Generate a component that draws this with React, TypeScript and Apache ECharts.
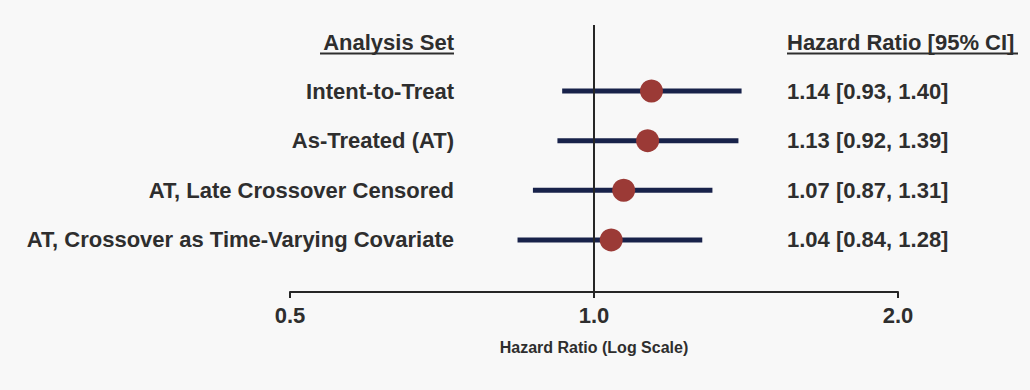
import React, { useEffect, useRef } from "react";
import * as echarts from "echarts";

const analysisSets = [
  "Intent-to-Treat",
  "As-Treated (AT)",
  "AT, Late Crossover Censored",
  "AT, Crossover as Time-Varying Covariate",
];
const hazardRatios = [1.14, 1.13, 1.07, 1.04];
const ciLower = [0.93, 0.92, 0.87, 0.84];
const ciUpper = [1.4, 1.39, 1.31, 1.28];
const rowPositions = [1, 2, 3, 4];
const referenceValue = 1;
const headerLeft = "Analysis Set";
const headerRight = "Hazard Ratio [95% CI]";
const axisTitle = "Hazard Ratio (Log Scale)";

const FONT = "'Liberation Sans', Arial, Helvetica, sans-serif";
const TEXT = "#2e2e2e";

export default function App() {
  const ref = useRef<HTMLDivElement>(null);
  useEffect(() => {
    if (!ref.current) return;
    const chart = echarts.init(ref.current, undefined, { renderer: "svg" });
    const rows = analysisSets.map((name, i) => [
      rowPositions[i],
      hazardRatios[i],
      ciLower[i],
      ciUpper[i],
      name,
    ]);
    const option: any = {
      animation: false,
      backgroundColor: "#f8f8f8",
      textStyle: { fontFamily: FONT },
      grid: { left: 290, right: 132, top: 25, bottom: 98, containLabel: false },
      xAxis: {
        type: "log",
        logBase: 2,
        min: 0.5,
        max: 2,
        position: "bottom",
        axisLine: { show: true, onZero: false, lineStyle: { color: "#262626", width: 2 } },
        axisTick: { show: true, length: 6, lineStyle: { color: "#262626", width: 2 } },
        minorTick: { show: false },
        splitLine: { show: false },
        axisLabel: {
          color: TEXT,
          fontSize: 22,
          fontWeight: "bold",
          fontFamily: FONT,
          margin: 12,
          formatter: (v: number) => Number(v).toFixed(1),
        },
        name: axisTitle,
        nameLocation: "middle",
        nameGap: 47,
        nameTextStyle: { color: TEXT, fontSize: 16, fontWeight: "bold", fontFamily: FONT },
      },
      yAxis: {
        type: "value",
        inverse: true,
        min: -0.33,
        max: 5.05,
        show: false,
      },
      series: [
        {
          type: "scatter",
          data: [],
          z: 1,
          silent: true,
          markLine: {
            silent: true,
            symbol: ["none", "none"],
            label: { show: false },
            lineStyle: { color: "#262626", width: 2, type: "solid" },
            data: [{ xAxis: referenceValue }],
          },
        },
        {
          type: "custom",
          z: 3,
          silent: true,
          data: rows,
          encode: { x: [1, 2, 3], y: 0 },
          renderItem: (params: any, api: any) => {
            const y = api.value(0);
            const hr = api.value(1);
            const lo = api.value(2);
            const hi = api.value(3);
            const name = analysisSets[params.dataIndex];
            const p1 = api.coord([lo, y]);
            const p2 = api.coord([hi, y]);
            return {
              type: "group",
              children: [
                {
                  type: "line",
                  shape: { x1: p1[0], y1: p1[1], x2: p2[0], y2: p2[1] },
                  style: { stroke: "#18224a", lineWidth: 5 },
                },
                {
                  type: "text",
                  style: {
                    text: name,
                    x: 454,
                    y: p1[1],
                    align: "right",
                    verticalAlign: "middle",
                    fill: TEXT,
                    font: `bold 22px ${FONT}`,
                  },
                },
                {
                  type: "text",
                  style: {
                    text: `${hr.toFixed(2)} [${lo.toFixed(2)}, ${hi.toFixed(2)}]`,
                    x: 787,
                    y: p1[1],
                    align: "left",
                    verticalAlign: "middle",
                    fill: TEXT,
                    font: `bold 22px ${FONT}`,
                  },
                },
              ],
            };
          },
        },
        {
          type: "scatter",
          z: 4,
          silent: true,
          symbol: "circle",
          symbolSize: 23,
          itemStyle: { color: "#9b3a36", opacity: 1 },
          data: hazardRatios.map((v, i) => [v, rowPositions[i]]),
        },
      ],
      graphic: [
        {
          type: "text",
          style: {
            text: headerLeft,
            x: 454,
            y: 42,
            align: "right",
            verticalAlign: "middle",
            fill: TEXT,
            font: `bold 22px ${FONT}`,
          },
        },
        {
          type: "rect",
          shape: { x: 320, y: 52.5, width: 134, height: 2 },
          style: { fill: TEXT },
        },
        {
          type: "text",
          style: {
            text: headerRight,
            x: 787,
            y: 42,
            align: "left",
            verticalAlign: "middle",
            fill: TEXT,
            font: `bold 22px ${FONT}`,
          },
        },
        {
          type: "rect",
          shape: { x: 787, y: 52.5, width: 231, height: 2 },
          style: { fill: TEXT },
        },
      ],
    };
    chart.setOption(option);
    return () => chart.dispose();
  }, []);
  return (
    <div
      ref={ref}
      style={{ position: "fixed", left: 0, top: 0, width: 1030, height: 390 }}
    />
  );
}
